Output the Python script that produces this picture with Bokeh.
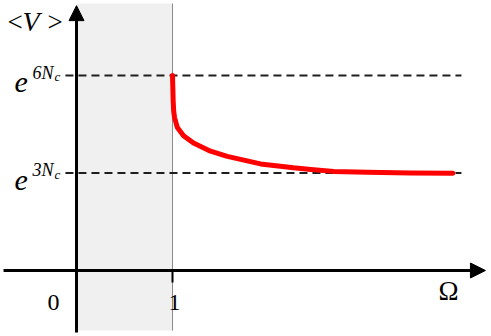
from bokeh.plotting import figure
from bokeh.models import Arrow, NormalHead, BoxAnnotation, Label, Range1d
from bokeh.embed import file_html
from bokeh.resources import INLINE

# ---- data ----
omega = [1.0, 1.003, 1.007, 1.012, 1.021, 1.049, 1.115, 1.219, 1.396, 1.57, 1.917, 2.26, 2.44,
         2.68, 3.03, 3.48, 3.92]
log_v = [6.0, 5.69, 5.23, 4.92, 4.71, 4.41, 4.15, 3.92, 3.67, 3.51, 3.28, 3.16, 3.11,
         3.05, 3.02, 3.0, 2.99]
levels = [6.0, 3.0]
level_sup = ["6N", "3N"]
level_sub = ["c", "c"]
x_ticks = [0, 1]
x_tick_labels = ["0", "1"]
forbidden = (0.0, 1.0)

x_lo, x_hi = -0.7917, 4.323
y_lo, y_hi = -2.031, 8.308
axis_x_start = -0.76
axis_x_end = 4.26
axis_y_end = 8.15
axis_y_start = -1.91
shade_top = 8.215
dash_lo, dash_hi = -0.115, 4.01

p = figure(width=491, height=336, output_backend="svg", toolbar_location=None,
           x_range=Range1d(x_lo, x_hi), y_range=Range1d(y_lo, y_hi),
           min_border=0, outline_line_color=None, background_fill_color="white")
p.axis.visible = False
p.grid.visible = False

# shaded forbidden region
p.add_layout(BoxAnnotation(left=forbidden[0], right=forbidden[1], bottom=axis_y_start + 0.06,
                           top=shade_top, fill_color="#f0f0f0", fill_alpha=1.0, line_color=None,
                           level="underlay"))
p.segment(x0=[forbidden[1]], y0=[axis_y_start + 0.06], x1=[forbidden[1]], y1=[shade_top],
          line_color="#8a8a8a", line_width=1)

# dashed reference levels
for lv in levels:
    p.segment(x0=[dash_lo], y0=[lv], x1=[dash_hi], y1=[lv],
              line_color="#1e1e1e", line_width=2.2, line_dash="8 5")

# axes with arrows
p.add_layout(Arrow(end=NormalHead(size=15, fill_color="black", line_color="black"),
                   x_start=axis_x_start, y_start=0, x_end=axis_x_end, y_end=0,
                   line_color="black", line_width=3))
p.add_layout(Arrow(end=NormalHead(size=15, fill_color="black", line_color="black"),
                   x_start=0, y_start=axis_y_start, x_end=0, y_end=axis_y_end,
                   line_color="black", line_width=3))
# tick at 1
p.segment(x0=[1], y0=[0], x1=[1], y1=[-12 / 32.5], line_color="black", line_width=2)

# red curve
p.line(omega, log_v, line_color="#ff0000", line_width=5, line_join="round", line_cap="round")

serif = "Liberation Serif"
# tick labels
for xt, lab, dx in zip(x_ticks, x_tick_labels, [-23, 2]):
    p.add_layout(Label(x=xt, y=0, text=lab, x_offset=dx, y_offset=-32, text_align="center",
                       text_baseline="alphabetic", text_font=serif, text_font_size="24px",
                       text_color="black"))
p.add_layout(Label(x=axis_x_end, y=0, text="Ω", x_offset=-37, y_offset=-21, text_align="center",
                   text_baseline="alphabetic", text_font=serif, text_font_size="27px",
                   text_color="black"))
p.add_layout(Label(x=0, y=axis_y_end, text="<", x_offset=-69, y_offset=-16, text_align="left",
                   text_baseline="alphabetic", text_font=serif, text_font_size="27px",
                   text_color="black"))
p.add_layout(Label(x=0, y=axis_y_end, text="V", x_offset=-54, y_offset=-16, text_align="left",
                   text_baseline="alphabetic", text_font=serif, text_font_size="28px",
                   text_font_style="italic", text_color="black"))
p.add_layout(Label(x=0, y=axis_y_end, text=">", x_offset=-29, y_offset=-16, text_align="left",
                   text_baseline="alphabetic", text_font=serif, text_font_size="27px",
                   text_color="black"))

# level labels e^{kN_c}
for lv, sup, sub in zip(levels, level_sup, level_sub):
    p.add_layout(Label(x=0, y=lv, text="e", x_offset=-62, y_offset=-7, text_align="left",
                       text_baseline="alphabetic", text_font=serif, text_font_size="30px",
                       text_font_style="italic", text_color="black"))
    p.add_layout(Label(x=0, y=lv, text=sup, x_offset=-44, y_offset=3, text_align="left",
                       text_baseline="alphabetic", text_font=serif, text_font_size="18px",
                       text_font_style="italic", text_color="black"))
    p.add_layout(Label(x=0, y=lv, text=sub, x_offset=-22, y_offset=-1, text_align="left",
                       text_baseline="alphabetic", text_font=serif, text_font_size="13px",
                       text_font_style="italic", text_color="black"))

open("out.html", "w").write(file_html(p, INLINE))
